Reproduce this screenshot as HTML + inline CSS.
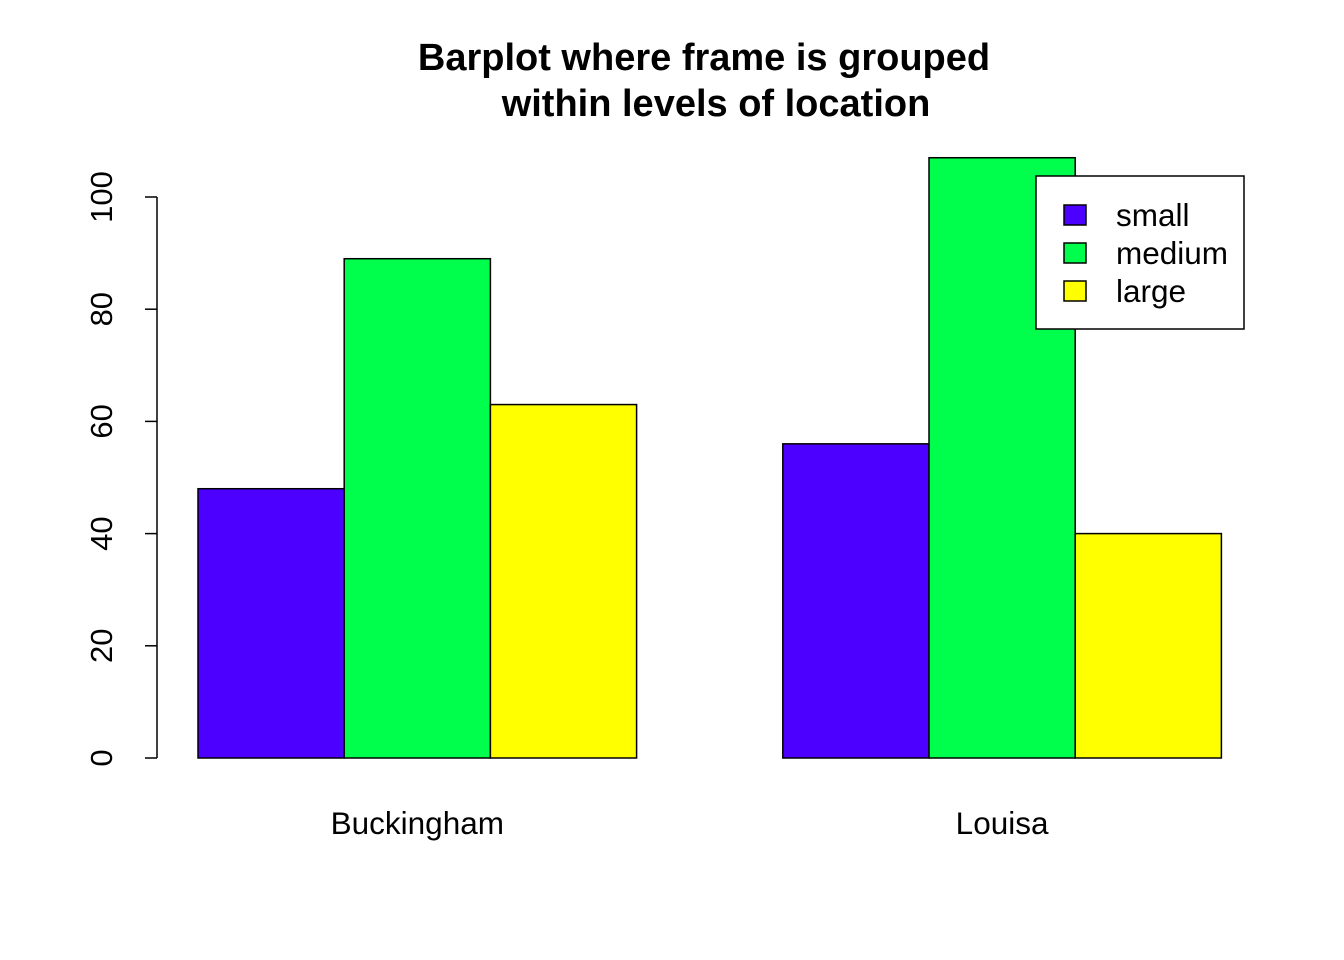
<!DOCTYPE html>
<html><head><meta charset="utf-8"><style>
html,body{margin:0;padding:0;background:#fff;}
svg{display:block;font-family:"Liberation Sans",Arial,sans-serif;}
</style></head><body>
<svg id="chart" width="1344" height="960" viewBox="0 0 1344 960">
<rect width="1344" height="960" fill="#fff"/>
<text x="704" y="70" text-anchor="middle" font-size="38" font-weight="bold">Barplot where frame is grouped</text>
<text x="716" y="116" text-anchor="middle" font-size="38" font-weight="bold">within levels of location</text>
<g id="bars"></g>
<g id="yaxis"></g>
<g id="xlabels"></g>
<g id="legend"></g>
</svg>
<script>
const categories = ["Buckingham", "Louisa"];
const series = ["small", "medium", "large"];
const small = [48, 56];
const medium = [89, 107];
const large = [63, 40];
const yTicks = [0, 20, 40, 60, 80, 100];
const colors = ["#4C00FF", "#00FF4D", "#FFFF00"];

const NS = "http://www.w3.org/2000/svg";
function yS(v){ return 758 - v * 5.61; }
function xS(u){ return 51.8 + u * 146.2; }
function mk(tag, attrs, parent){
  const e = document.createElementNS(NS, tag);
  for (const k in attrs) e.setAttribute(k, attrs[k]);
  parent.appendChild(e); return e;
}
const vals = [small, medium, large];
const bars = document.getElementById("bars");
categories.forEach((c, ci) => {
  const start = 1 + ci * 4;
  series.forEach((s, si) => {
    const v = vals[si][ci];
    const r = mk("rect", {x: xS(start + si), y: yS(v), width: xS(start+si+1) - xS(start+si), height: yS(0) - yS(v), fill: colors[si], stroke: "#000", "stroke-width": 1.5}, bars);
    
    
  });
  const t = mk("text", {x: xS(start + 1.5), y: 834, "text-anchor": "middle", "font-size": 31.5}, document.getElementById("xlabels"));
  t.textContent = c;
  
  
});
const ya = document.getElementById("yaxis");
const al = mk("line", {x1: 157, x2: 157, y1: yS(0), y2: yS(100), stroke: "#000", "stroke-width": 1.5}, ya);


yTicks.forEach(v => {
  const tk = mk("line", {x1: 145, x2: 157, y1: yS(v), y2: yS(v), stroke: "#000", "stroke-width": 1.5}, ya);
  
  
  const t = mk("text", {x: 0, y: 0, "text-anchor": "middle", "font-size": 31, transform: `translate(112,${yS(v)}) rotate(-90)`}, ya);
  t.textContent = v;
  
  
});
const lg = document.getElementById("legend");
const box = mk("rect", {x: 1036, y: 176, width: 208, height: 153, fill: "#fff", stroke: "#000", "stroke-width": 1.5}, lg);


series.forEach((s, i) => {
  const cy = 215 + i * 38;
  const sw = mk("rect", {x: 1064, y: cy - 10, width: 22, height: 20, fill: colors[i], stroke: "#000", "stroke-width": 1.5}, lg);
  
  
  const t = mk("text", {x: 1116, y: cy + 11, "font-size": 31.5}, lg);
  t.textContent = s;
  
  
});
</script>
</body></html>
